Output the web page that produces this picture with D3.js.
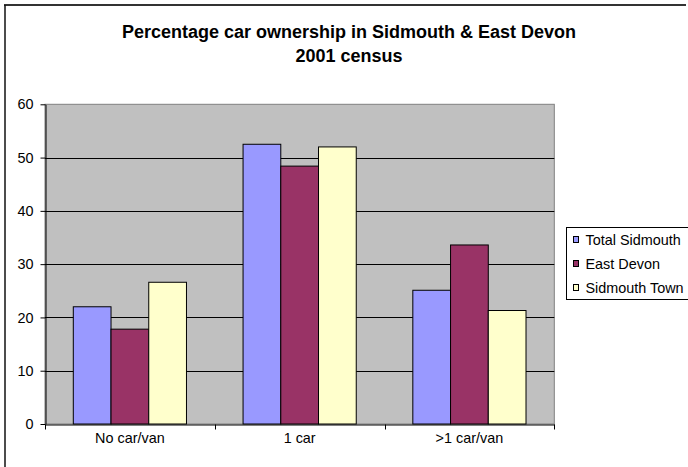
<!DOCTYPE html>
<html><head><meta charset="utf-8">
<script src="https://cdn.jsdelivr.net/npm/d3@7"></script>
<style>body{margin:0;background:#fff}svg{display:block}</style>
</head><body>
<svg id="c" width="688" height="467"></svg>
<script>
const categories = ["No car/van", "1 car", ">1 car/van"];
const seriesNames = ["Total Sidmouth", "East Devon", "Sidmouth Town"];
const totalSidmouth = [22.0, 52.5, 25.1];
const eastDevon = [17.8, 48.4, 33.6];
const sidmouthTown = [26.6, 52.0, 21.3];
const yTicks = [0, 10, 20, 30, 40, 50, 60];
const colors = ["#9999FF", "#993366", "#FFFFCC"];
const titleLines = ["Percentage car ownership in Sidmouth & East Devon", "2001 census"];

const series = [totalSidmouth, eastDevon, sidmouthTown];
const svg = d3.select("#c");
const font = "'Liberation Sans', Arial, sans-serif";
const fs = 14.4;

// outer chart border
svg.append("line").attr("x1",4).attr("x2",686).attr("y1",5).attr("y2",5).attr("stroke","#333").attr("stroke-width",2);
svg.append("line").attr("x1",5).attr("x2",5).attr("y1",5).attr("y2",467).attr("stroke","#111").attr("stroke-width",1.5);

const L = 45, R = 554.3, T = 104.3, B = 424;
const y = d3.scaleLinear().domain([0,60]).range([B,T]);
const x0 = d3.scaleBand().domain(categories).range([L,R]).padding(0);
const gap = x0.bandwidth() / 6;
const x1 = d3.scaleBand().domain(seriesNames).range([gap, x0.bandwidth()-gap]).padding(0);

// plot area
svg.append("rect").attr("x",L).attr("y",T).attr("width",R-L).attr("height",B-T).attr("fill","#C0C0C0").attr("stroke","#808080").attr("stroke-width",1);

// gridlines
svg.append("g").selectAll("line").data(yTicks.filter(t=>t>0 && t<60)).join("line")
  .attr("x1",L).attr("x2",R).attr("y1",d=>Math.round(y(d))+0.5).attr("y2",d=>Math.round(y(d))+0.5)
  .attr("stroke","#000").attr("stroke-width",1);

// bars
const g = svg.append("g");
categories.forEach((c,i)=>{
  series.forEach((s,j)=>{
    g.append("rect")
      .attr("x", x0(c)+x1(seriesNames[j]))
      .attr("y", y(s[i]))
      .attr("width", x1.bandwidth())
      .attr("height", B - y(s[i]))
      .attr("fill", colors[j]).attr("stroke","#000").attr("stroke-width",1);
  });
});

// y axis
const ya = svg.append("g").attr("transform",`translate(${L+0.5},0)`)
  .call(d3.axisLeft(y).tickValues(yTicks).tickSize(5).tickPadding(7).tickSizeOuter(0));
ya.select(".domain").attr("stroke","#000");
ya.selectAll("text").attr("font-family",font).attr("font-size",fs).attr("fill","#000");

// x axis
const xa = svg.append("g").attr("transform",`translate(0,${B+0.5})`)
  .call(d3.axisBottom(x0).tickSize(0).tickPadding(8));
xa.select(".domain").attr("stroke","#000");
xa.selectAll("text").attr("font-family",font).attr("font-size",fs).attr("fill","#000");
// tick marks at category boundaries
xa.selectAll("line.b").data(categories.map(c=>x0(c)).concat([R])).join("line").attr("class","b")
  .attr("x1",d=>Math.round(d)+0.5).attr("x2",d=>Math.round(d)+0.5).attr("y1",0).attr("y2",5).attr("stroke","#000");

// title
svg.append("g").selectAll("text").data(titleLines).join("text")
  .attr("x",349).attr("y",(d,i)=>37.5+i*24).attr("text-anchor","middle")
  .attr("font-family",font).attr("font-weight","bold").attr("font-size",18).attr("fill","#000").text(d=>d);

// legend
const lg = svg.append("g");
lg.append("rect").attr("x",566.5).attr("y",227.5).attr("width",130).attr("height",72).attr("fill","#fff").attr("stroke","#000");
seriesNames.forEach((n,i)=>{
  const cy = 240 + i*24;
  lg.append("rect").attr("x",573.5).attr("y",cy-3.5).attr("width",5).attr("height",6).attr("fill",colors[i]).attr("stroke","#000");
  lg.append("text").attr("x",585.5).attr("y",cy+5).attr("font-family",font).attr("font-size",fs).attr("fill","#000").text(n);
});
</script>
</body></html>
